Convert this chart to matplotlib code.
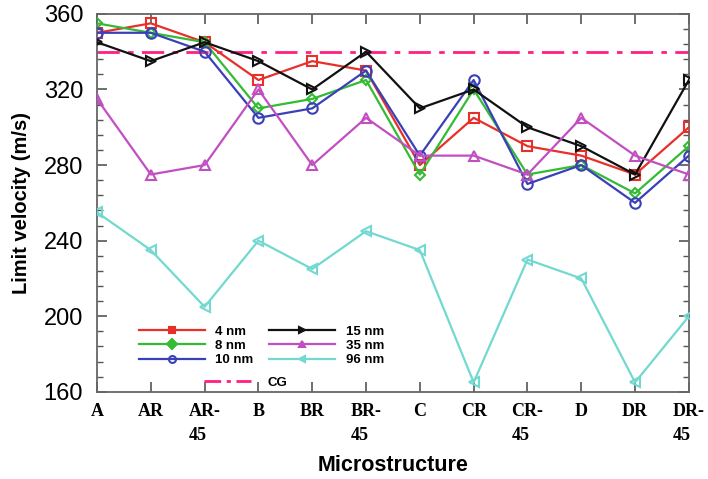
import matplotlib
matplotlib.use("Agg")
import matplotlib.pyplot as plt
from matplotlib.lines import Line2D
from matplotlib.ticker import MultipleLocator

categories = ["A", "AR", "AR-\n45", "B", "BR", "BR-\n45", "C", "CR", "CR-\n45", "D", "DR", "DR-\n45"]

v_4nm = [350, 355, 345, 325, 335, 330, 280, 305, 290, 285, 275, 300]
v_8nm = [355, 350, 345, 310, 315, 325, 275, 320, 275, 280, 265, 290]
v_10nm = [350, 350, 340, 305, 310, 330, 285, 325, 270, 280, 260, 285]
v_15nm = [345, 335, 345, 335, 320, 340, 310, 320, 300, 290, 275, 325]
v_35nm = [315, 275, 280, 320, 280, 305, 285, 285, 275, 305, 285, 275]
v_96nm = [255, 235, 205, 240, 225, 245, 235, 165, 230, 220, 165, 200]
cg_value = 340

series = [
    ("4 nm", v_4nm, "#e8302a", "s"),
    ("8 nm", v_8nm, "#33bb33", "D"),
    ("10 nm", v_10nm, "#3a40b8", "o"),
    ("15 nm", v_15nm, "#111111", ">"),
    ("35 nm", v_35nm, "#c24fc2", "^"),
    ("96 nm", v_96nm, "#72d9d0", "<"),
]

fig = plt.figure(figsize=(7.08, 4.79), dpi=100)
ax = fig.add_axes([0.137, 0.182, 0.836, 0.789])

x = list(range(len(categories)))
handles = []
for name, vals, col, mk in series:
    ms = 5.5 if mk == "D" else 7.5
    ax.plot(x, vals, color=col, lw=1.6, marker=mk, ms=ms, mfc="none",
            mec=col, mew=1.5, zorder=3)
    handles.append(Line2D([], [], color=col, lw=1.6, marker=mk, ms=5,
                          mfc=col if mk != "o" else "none", mec=col, mew=1.5,
                          label=name))

ax.axhline(cg_value, color="#ff2080", lw=2, ls=(0, (8, 3, 2, 3)), zorder=2)

ax.set_xlim(0, len(categories) - 1)
ax.set_ylim(160, 360)
ax.yaxis.set_major_locator(MultipleLocator(40))
ax.yaxis.set_minor_locator(MultipleLocator(8))
ax.set_xticks(x)
ax.set_xticklabels(categories, family="Liberation Serif", fontweight="bold",
                   fontsize=13, linespacing=1.55, va="top", multialignment="left")
for lab in ax.get_yticklabels():
    lab.set_family("Liberation Sans")
    lab.set_fontsize(17)

ax.tick_params(axis="both", which="both", direction="in", top=True, right=True,
               color="#555555")
ax.tick_params(axis="both", which="major", length=7, width=1.2)
ax.tick_params(axis="y", which="minor", length=4, width=1.0)
ax.tick_params(axis="x", which="major", pad=8)
ax.tick_params(axis="y", which="major", pad=10)
for sp in ax.spines.values():
    sp.set_color("#666666")
    sp.set_linewidth(1.3)

ax.set_ylabel("Limit velocity (m/s)", family="Liberation Sans", fontweight="bold",
              fontsize=14.5, labelpad=9)
ax.set_xlabel("Microstructure", family="Liberation Sans", fontweight="bold",
              fontsize=15.5, labelpad=8)

legend_font = {"family": "Liberation Sans", "weight": "bold", "size": 9.5}
leg1 = ax.legend(handles=handles, ncol=2, loc="upper left",
                 bbox_to_anchor=(0.055, 0.2), frameon=False, prop=legend_font,
                 handlelength=5.0, handletextpad=0.8, columnspacing=1.2,
                 labelspacing=0.15, borderpad=0.2)
ax.add_artist(leg1)
cg_handle = Line2D([], [], color="#ff2080", lw=2, ls=(0, (6, 2, 1.5, 2)), label="CG")
ax.legend(handles=[cg_handle], loc="upper left", bbox_to_anchor=(0.165, 0.065),
          frameon=False, prop=legend_font,
          handlelength=3.6, handletextpad=1.2, borderpad=0.2)

fig.savefig("out.png", dpi=100)
